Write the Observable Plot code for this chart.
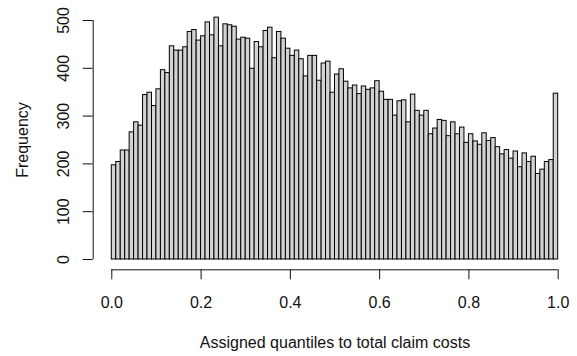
<!DOCTYPE html>
<html>
<head>
<meta charset="utf-8">
<script src="https://cdn.jsdelivr.net/npm/d3@7"></script>
<script src="https://cdn.jsdelivr.net/npm/@observablehq/plot@0.6"></script>
<style>
  html, body { margin: 0; padding: 0; background: #ffffff; }
  #chart svg { display: block; font-family: "Liberation Sans", Arial, sans-serif; }
</style>
</head>
<body>
<div id="chart"></div>
<script>
// Histogram of assigned quantiles: 100 equal-width bins on [0, 1]
const breaks = d3.range(101).map(i => i / 100);
const counts = [
  197, 204, 228, 228, 266, 287, 280, 344, 349, 321,
  356, 396, 390, 446, 437, 437, 444, 476, 480, 458,
  467, 496, 469, 506, 446, 492, 490, 487, 460, 464,
  462, 399, 455, 444, 478, 485, 421, 476, 462, 441,
  426, 437, 419, 383, 426, 426, 374, 410, 414, 349,
  387, 398, 372, 358, 364, 346, 362, 355, 358, 373,
  351, 334, 334, 301, 331, 333, 287, 345, 311, 301,
  311, 262, 274, 292, 290, 258, 287, 262, 276, 244,
  262, 247, 240, 264, 248, 254, 235, 220, 229, 211,
  226, 193, 222, 204, 215, 179, 188, 204, 208, 347
];
const xTicks = [0, 0.2, 0.4, 0.6, 0.8, 1.0];
const yTicks = [0, 100, 200, 300, 400, 500];
const xTitle = "Assigned quantiles to total claim costs";
const yTitle = "Frequency";

const bins = counts.map((n, i) => ({x1: breaks[i], x2: breaks[i + 1], n}));

const ink = "#111111";
const fontSize = 16;

const chart = Plot.plot({
  width: 577,
  height: 356,
  marginLeft: 111.3,
  marginRight: 19.3,
  marginTop: 20,
  marginBottom: 97,
  style: {fontFamily: '"Liberation Sans", Arial, sans-serif', fontSize: fontSize + "px", background: "#ffffff"},
  x: {domain: [0, 1]},
  y: {domain: [0, 500]},
  marks: [
    // bars
    Plot.rectY(bins, {x1: "x1", x2: "x2", y: "n", fill: "#d3d3d3", stroke: "#000000", strokeWidth: 1, inset: 0}),
    // x axis: line, ticks and labels, set below the bars
    Plot.ruleY([0], {x1: 0, x2: 1, dy: 10.3, stroke: ink}),
    Plot.axisX(xTicks, {tickSize: 10, dy: 10.3, stroke: ink, fill: "none", label: null}),
    Plot.text(xTicks, {x: d => d, text: d => d3.format(".1f")(d), frameAnchor: "bottom", lineAnchor: "bottom", dy: 48.3, fill: ink, fontSize}),
    Plot.text([xTitle], {frameAnchor: "bottom", lineAnchor: "bottom", dy: 88.5, fill: ink, fontSize}),
    // y axis: line, ticks and rotated labels, set left of the bars
    Plot.ruleX([0], {y1: 0, y2: 500, dx: -18.6, stroke: ink}),
    Plot.axisY(yTicks, {tickSize: 10, dx: -18.6, stroke: ink, fill: "none", label: null}),
    Plot.text(yTicks, {y: d => d, text: d => String(d), frameAnchor: "left", dx: -48.2, rotate: -90, textAnchor: "middle", lineAnchor: "middle", fill: ink, fontSize}),
    Plot.text([yTitle], {frameAnchor: "left", dx: -83.8, rotate: -90, textAnchor: "middle", lineAnchor: "bottom", fill: ink, fontSize})
  ]
});

document.getElementById("chart").appendChild(chart);
</script>
</body>
</html>
